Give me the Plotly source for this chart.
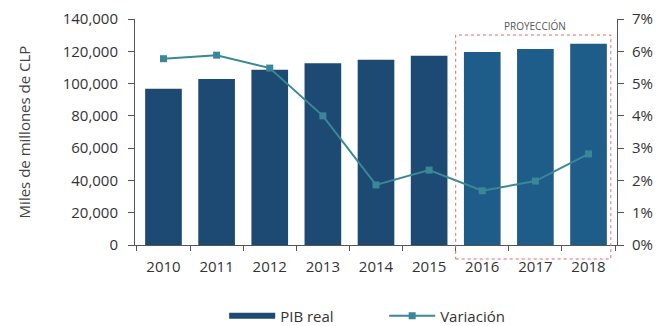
import plotly.graph_objects as go

years = ["2010", "2011", "2012", "2013", "2014", "2015", "2016", "2017", "2018"]
pib_real = [96800, 102800, 108500, 112600, 114800, 117200, 119500, 121400, 124600]
variacion = [0.0577, 0.0588, 0.0548, 0.0400, 0.0186, 0.0232, 0.0168, 0.0198, 0.0282]
bar_colors = ["#1d4a72"] * 6 + ["#1e5d89"] * 3
line_color = "#3a8798"

fig = go.Figure()
fig.add_trace(go.Bar(x=years, y=pib_real, name="PIB real", marker=dict(color=bar_colors, line=dict(width=0)),
                     yaxis="y", showlegend=False))
# legend-only swatch for the bars (wide bar look)
fig.add_trace(go.Scatter(x=[None], y=[None], name="PIB real", mode="lines",
                         line=dict(color="#1d4a72", width=6), yaxis="y"))
fig.add_trace(go.Scatter(x=years, y=variacion, name="Variación", mode="lines+markers",
                         line=dict(color=line_color, width=2), marker=dict(symbol="square", size=7, color=line_color),
                         yaxis="y2"))

font = dict(family="Open Sans, sans-serif", size=15, color="#333333")
fig.update_layout(
    width=657, height=326,
    margin=dict(l=135, r=40, t=19, b=81, autoexpand=False),
    paper_bgcolor="white", plot_bgcolor="white",
    font=font,
    bargap=0.31,
    showlegend=True,
    legend=dict(orientation="h", x=0.185, xanchor="left", y=-0.314, yanchor="middle",
                font=dict(size=15, color="#333333"), itemwidth=46,
                entrywidth=99, entrywidthmode="pixels"),
    xaxis=dict(type="category", showline=True, linecolor="#555555", linewidth=1, ticks="outside",
               tickson="boundaries", ticklen=5, tickcolor="#555555", showgrid=False,
               tickfont=dict(size=15), ticklabelstandoff=8),
    yaxis=dict(range=[0, 140000], dtick=20000, tickformat=",", showline=True, linecolor="#555555", linewidth=1,
               ticks="outside", ticklen=6, tickcolor="#555555", showgrid=False, zeroline=False,
               ticklabelstandoff=7,
               title=dict(text="Miles de millones de CLP", font=dict(size=15, color="#444444"), standoff=28)),
    yaxis2=dict(range=[0, 0.07], dtick=0.01, tickformat=".0%", overlaying="y", side="right", showline=True,
                linecolor="#555555", linewidth=1, ticks="outside", ticklen=6, tickcolor="#555555",
                showgrid=False, zeroline=False, ticklabelstandoff=5),
)

fig.add_shape(type="rect", xref="x", yref="paper", x0=5.5, x1=8.42, y0=-0.062, y1=0.929,
              line=dict(color="#e06c6c", width=1, dash="3px,3px"), fillcolor="rgba(0,0,0,0)", layer="above")
fig.add_annotation(x=7, y=1.01, xref="x", yref="paper", text="PROYECCIÓN", showarrow=False,
                   font=dict(size=10, color="#555555"))

fig.write_html("out.html")
